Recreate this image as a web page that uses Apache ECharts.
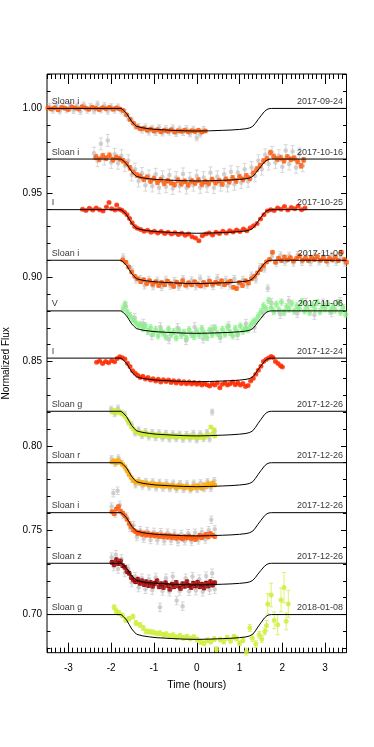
<!DOCTYPE html>
<html>
<head>
<meta charset="utf-8">
<script src="https://cdn.jsdelivr.net/npm/echarts@6/dist/echarts.min.js"></script>
<style>
html,body{margin:0;padding:0;background:#fff;}
#chart{width:374px;height:747px;}
</style>
</head>
<body>
<div id="chart"></div>
<script>
// ticks
var xMajor = [-3, -2, -1, 0, 1, 2, 3];
var yMajor = [0.70, 0.75, 0.80, 0.85, 0.90, 0.95, 1.00];
var yMinor = [0.68,0.69,0.71,0.72,0.73,0.74,0.76,0.77,0.78,0.79,0.81,0.82,0.83,0.84,0.86,0.87,0.88,0.89,0.91,0.92,0.93,0.94,0.96,0.97,0.98,0.99,1.01,1.02];

// curves (top to bottom)
var filters = ['Sloan i','Sloan i','I','Sloan i','V','I','Sloan g','Sloan r','Sloan i','Sloan z','Sloan g'];
var dates = ['2017-09-24','2017-10-16','2017-10-25','2017-11-06','2017-11-06','2017-12-24','2017-12-26','2017-12-26','2017-12-26','2017-12-26','2018-01-08'];
var baselines = [1.0, 0.97, 0.94, 0.91, 0.88, 0.852, 0.8205, 0.79, 0.7604, 0.7304, 0.70];
var depths = [0.0134, 0.013, 0.014, 0.0138, 0.0133, 0.014, 0.0146, 0.0142, 0.0138, 0.0128, 0.0147];
var colors = ['#ff5a0a','#ff5a0a','#ff2a00','#ff5a0a','#88ee88','#ff2a00','#ccee33','#ffaa00','#ff5a0a','#9a0000','#ccee33'];
var colorErr = [0.0008, 0.0014, 0.0004, 0.0009, 0.0018, 0.0004, 0.0008, 0.0008, 0.0009, 0.0011, 0.0014];
var grayErr = [0.0018, 0.0035, 0, 0.002, 0.0025, 0, 0.0017, 0.0017, 0.0022, 0.0025, 0];

// model transit shape (fraction of depth)
var modelT = [-3.5,-1.77,-1.72,-1.64,-1.58,-1.52,-1.46,-1.41,-1.33,-1.26,-1.1,-0.95,-0.6,-0.3,0,0.3,0.6,0.8,1.0,1.15,1.24,1.31,1.37,1.43,1.5,1.58,1.64,1.69,1.75,3.5];
var modelShape = [0,0,0.07,0.22,0.4,0.58,0.7,0.79,0.83,0.86,0.9,0.93,0.965,0.99,1,0.99,0.97,0.955,0.93,0.9,0.86,0.79,0.66,0.5,0.33,0.14,0.05,0.01,0,0];

// data
var sep24I = [[-3.48,1.0003],[-3.40,0.9996],[-3.32,1.0004],[-3.24,0.9992],[-3.16,1.0006],[-3.08,1.0001],[-3.00,0.9994],[-2.92,1.0008],[-2.84,1.0002],[-2.76,0.9997],[-2.68,1.0010],[-2.60,1.0003],[-2.52,0.9995],[-2.44,1.0007],[-2.36,1.0001],[-2.28,0.9993],[-2.20,1.0004],[-2.12,0.9998],[-2.04,1.0006],[-1.96,0.9995],[-1.88,1.0002],[-1.80,0.9997],[-1.72,0.9988],[-1.64,0.9962],[-1.56,0.9935],[-1.48,0.9912],[-1.40,0.9892],[-1.32,0.9880],[-1.24,0.9883],[-1.16,0.9871],[-1.08,0.9878],[-1.00,0.9866],[-0.92,0.9874],[-0.84,0.9862],[-0.76,0.9870],[-0.68,0.9865],[-0.60,0.9873],[-0.52,0.9860],[-0.44,0.9868],[-0.36,0.9864],[-0.28,0.9871],[-0.20,0.9861],[-0.12,0.9867],[-0.04,0.9863],[0.04,0.9870],[0.12,0.9860],[0.20,0.9866]];
var sep24Gray = [[-3.44,1.0012],[-3.36,0.9990],[-3.28,1.0015],[-3.20,0.9985],[-3.12,1.0010],[-3.04,0.9992],[-2.96,1.0018],[-2.88,0.9988],[-2.80,1.0014],[-2.72,0.9983],[-2.64,1.0020],[-2.56,0.9990],[-2.48,1.0012],[-2.40,0.9986],[-2.32,1.0025],[-2.24,0.9992],[-2.16,1.0016],[-2.08,0.9984],[-2.00,1.0010],[-1.92,0.9990],[-1.84,1.0008],[-1.76,0.9985],[-1.68,0.9975],[-1.60,0.9945],[-1.52,0.9930],[-1.44,0.9895],[-1.36,0.9892],[-1.28,0.9872],[-1.20,0.9890],[-1.12,0.9860],[-1.04,0.9882],[-0.96,0.9858],[-0.88,0.9885],[-0.80,0.9855],[-0.72,0.9880],[-0.64,0.9860],[-0.56,0.9884],[-0.48,0.9852],[-0.40,0.9878],[-0.32,0.9858],[-0.24,0.9880],[-0.16,0.9850],[-0.08,0.9876],[0.00,0.9826],[0.08,0.9848],[0.16,0.9875]];
var oct16I = [[-2.36,0.9712],[-2.28,0.9698],[-2.20,0.9718],[-2.12,0.9705],[-2.04,0.9722],[-1.96,0.9695],[-1.88,0.9710],[-1.80,0.9701],[-1.72,0.9690],[-1.64,0.9672],[-1.56,0.9648],[-1.48,0.9622],[-1.40,0.9605],[-1.32,0.9598],[-1.24,0.9580],[-1.16,0.9592],[-1.08,0.9570],[-1.00,0.9585],[-0.92,0.9562],[-0.84,0.9578],[-0.76,0.9555],[-0.68,0.9572],[-0.60,0.9560],[-0.52,0.9548],[-0.44,0.9575],[-0.36,0.9553],[-0.28,0.9568],[-0.20,0.9546],[-0.12,0.9570],[-0.04,0.9558],[0.04,0.9575],[0.12,0.9550],[0.20,0.9566],[0.28,0.9555],[0.36,0.9578],[0.44,0.9560],[0.52,0.9572],[0.60,0.9552],[0.68,0.9580],[0.76,0.9565],[0.84,0.9588],[0.92,0.9570],[1.00,0.9595],[1.08,0.9578],[1.16,0.9600],[1.24,0.9585],[1.32,0.9615],[1.40,0.9640],[1.48,0.9660],[1.56,0.9688],[1.64,0.9702],[1.72,0.9738],[1.80,0.9715],[1.88,0.9700],[1.96,0.9708],[2.04,0.9690],[2.12,0.9712],[2.20,0.9698],[2.28,0.9705],[2.36,0.9685],[2.44,0.9660],[2.50,0.9695]];
var oct16Gray = [[-2.40,0.9735],[-2.32,0.9690],[-2.24,0.9790],[-2.16,0.9700],[-2.08,0.9810],[-2.00,0.9680],[-1.92,0.9728],[-1.84,0.9675],[-1.76,0.9720],[-1.68,0.9660],[-1.60,0.9690],[-1.52,0.9605],[-1.44,0.9640],[-1.36,0.9570],[-1.28,0.9615],[-1.20,0.9545],[-1.12,0.9600],[-1.04,0.9540],[-0.96,0.9610],[-0.88,0.9530],[-0.80,0.9595],[-0.72,0.9535],[-0.64,0.9605],[-0.56,0.9525],[-0.48,0.9590],[-0.40,0.9540],[-0.32,0.9612],[-0.24,0.9528],[-0.16,0.9585],[-0.08,0.9545],[0.00,0.9600],[0.08,0.9532],[0.16,0.9590],[0.24,0.9538],[0.32,0.9618],[0.40,0.9530],[0.48,0.9595],[0.56,0.9545],[0.64,0.9610],[0.72,0.9540],[0.80,0.9625],[0.88,0.9550],[0.96,0.9620],[1.04,0.9560],[1.12,0.9640],[1.20,0.9568],[1.28,0.9650],[1.36,0.9600],[1.44,0.9690],[1.52,0.9640],[1.60,0.9725],[1.68,0.9670],[1.76,0.9740],[1.84,0.9680],[1.92,0.9720],[2.00,0.9655],[2.08,0.9750],[2.16,0.9670],[2.24,0.9745],[2.32,0.9650],[2.40,0.9730],[2.48,0.9660]];
var oct25I = [[-2.67,0.9402],[-2.59,0.9395],[-2.51,0.9408],[-2.43,0.9398],[-2.35,0.9410],[-2.27,0.9400],[-2.19,0.9392],[-2.11,0.9415],[-2.05,0.9442],[-1.99,0.9405],[-1.91,0.9398],[-1.87,0.9428],[-1.81,0.9402],[-1.75,0.9396],[-1.69,0.9385],[-1.63,0.9370],[-1.57,0.9348],[-1.51,0.9322],[-1.45,0.9300],[-1.39,0.9290],[-1.31,0.9282],[-1.23,0.9272],[-1.15,0.9278],[-1.07,0.9266],[-0.99,0.9272],[-0.91,0.9262],[-0.83,0.9270],[-0.75,0.9258],[-0.67,0.9266],[-0.59,0.9255],[-0.51,0.9263],[-0.43,0.9252],[-0.35,0.9260],[-0.27,0.9248],[-0.19,0.9256],[-0.11,0.9240],[-0.03,0.9232],[0.05,0.9215],[0.13,0.9245],[0.21,0.9255],[0.29,0.9262],[0.37,0.9250],[0.45,0.9266],[0.53,0.9258],[0.61,0.9272],[0.69,0.9262],[0.77,0.9275],[0.85,0.9268],[0.93,0.9280],[1.01,0.9270],[1.09,0.9285],[1.17,0.9275],[1.25,0.9292],[1.33,0.9305],[1.41,0.9318],[1.49,0.9345],[1.57,0.9370],[1.65,0.9392],[1.73,0.9400],[1.81,0.9395],[1.89,0.9410],[1.97,0.9402],[2.05,0.9418],[2.13,0.9398],[2.21,0.9412],[2.29,0.9405],[2.37,0.9420],[2.45,0.9400],[2.53,0.9410]];
var nov06I = [[-1.73,0.9102],[-1.66,0.9088],[-1.59,0.9060],[-1.52,0.9030],[-1.45,0.9005],[-1.38,0.8990],[-1.31,0.8972],[-1.24,0.8985],[-1.17,0.8962],[-1.10,0.8978],[-1.03,0.8958],[-0.96,0.8972],[-0.89,0.8950],[-0.82,0.8968],[-0.75,0.8955],[-0.68,0.8975],[-0.61,0.8962],[-0.54,0.8945],[-0.47,0.8970],[-0.40,0.8958],[-0.33,0.8978],[-0.26,0.8952],[-0.19,0.8966],[-0.12,0.8955],[-0.05,0.8972],[0.02,0.8960],[0.09,0.8948],[0.16,0.8968],[0.23,0.8955],[0.30,0.8975],[0.37,0.8958],[0.44,0.8970],[0.51,0.8962],[0.58,0.8978],[0.65,0.8955],[0.72,0.8966],[0.79,0.8975],[0.86,0.8940],[0.93,0.8932],[1.00,0.8968],[1.07,0.8950],[1.14,0.8978],[1.21,0.8965],[1.28,0.8990],[1.35,0.9005],[1.42,0.9025],[1.49,0.9045],[1.56,0.9068],[1.63,0.9090],[1.70,0.9105],[1.77,0.9148],[1.84,0.9088],[1.91,0.9112],[1.98,0.9098],[2.05,0.9120],[2.12,0.9102],[2.19,0.9115],[2.26,0.9095],[2.33,0.9110],[2.40,0.9125],[2.47,0.9100],[2.54,0.9112],[2.61,0.9098],[2.68,0.9118],[2.75,0.9105],[2.82,0.9122],[2.89,0.9100],[2.96,0.9115],[3.03,0.9095],[3.10,0.9110],[3.17,0.9102],[3.24,0.9120],[3.31,0.9098],[3.38,0.9148],[3.45,0.9105],[3.50,0.9088]];
var nov06IGray = [[-1.72,0.9118],[-1.62,0.9075],[-1.52,0.9045],[-1.42,0.8985],[-1.32,0.8990],[-1.22,0.8950],[-1.12,0.8985],[-1.02,0.8945],[-0.92,0.8980],[-0.82,0.8940],[-0.72,0.8985],[-0.62,0.8948],[-0.52,0.8978],[-0.42,0.8942],[-0.32,0.8990],[-0.22,0.8950],[-0.12,0.8982],[-0.02,0.8945],[0.08,0.8992],[0.18,0.8950],[0.28,0.8985],[0.38,0.8946],[0.48,0.8995],[0.58,0.8955],[0.68,0.8985],[0.78,0.8948],[0.88,0.8990],[0.98,0.8958],[1.08,0.8985],[1.18,0.8955],[1.28,0.9010],[1.38,0.8985],[1.48,0.9060],[1.58,0.9050],[1.66,0.8934],[1.76,0.9125],[1.86,0.9085],[1.96,0.9130],[2.06,0.9090],[2.16,0.9128],[2.26,0.9085],[2.36,0.9132],[2.46,0.9090],[2.56,0.9125],[2.66,0.9088],[2.76,0.9130],[2.86,0.9092],[2.96,0.9126],[3.06,0.9085],[3.16,0.9128],[3.26,0.9090],[3.36,0.9120],[3.46,0.9085]];
var nov06V = [[-1.72,0.8812],[-1.68,0.8840],[-1.62,0.8790],[-1.56,0.8772],[-1.50,0.8752],[-1.44,0.8735],[-1.38,0.8715],[-1.32,0.8720],[-1.26,0.8695],[-1.20,0.8712],[-1.14,0.8678],[-1.08,0.8700],[-1.02,0.8665],[-0.96,0.8690],[-0.90,0.8652],[-0.84,0.8685],[-0.78,0.8668],[-0.72,0.8645],[-0.66,0.8692],[-0.60,0.8660],[-0.54,0.8678],[-0.48,0.8640],[-0.42,0.8685],[-0.36,0.8655],[-0.30,0.8672],[-0.24,0.8638],[-0.18,0.8688],[-0.12,0.8660],[-0.06,0.8648],[0.00,0.8680],[0.06,0.8655],[0.12,0.8695],[0.18,0.8665],[0.24,0.8642],[0.30,0.8685],[0.36,0.8660],[0.42,0.8700],[0.48,0.8668],[0.54,0.8650],[0.60,0.8690],[0.66,0.8662],[0.72,0.8705],[0.78,0.8672],[0.84,0.8652],[0.90,0.8695],[0.96,0.8668],[1.02,0.8710],[1.08,0.8680],[1.14,0.8702],[1.20,0.8688],[1.26,0.8715],[1.32,0.8735],[1.38,0.8745],[1.44,0.8770],[1.50,0.8795],[1.56,0.8830],[1.62,0.8812],[1.68,0.8862],[1.74,0.8820],[1.80,0.8795],[1.86,0.8840],[1.92,0.8805],[1.98,0.8852],[2.04,0.8790],[2.10,0.8825],[2.16,0.8810],[2.22,0.8845],[2.28,0.8798],[2.34,0.8830],[2.40,0.8812],[2.46,0.8855],[2.52,0.8800],[2.58,0.8822],[2.64,0.8790],[2.70,0.8838],[2.76,0.8808],[2.82,0.8850],[2.88,0.8795],[2.94,0.8828],[3.00,0.8812],[3.06,0.8842],[3.12,0.8798],[3.18,0.8825],[3.24,0.8805],[3.30,0.8848],[3.36,0.8792],[3.42,0.8820],[3.48,0.8780]];
var nov06VGray = [[-1.65,0.8825],[-1.45,0.8760],[-1.25,0.8725],[-1.05,0.8655],[-0.85,0.8705],[-0.65,0.8630],[-0.45,0.8700],[-0.25,0.8625],[-0.05,0.8705],[0.15,0.8635],[0.35,0.8690],[0.55,0.8640],[0.75,0.8710],[0.95,0.8655],[1.15,0.8725],[1.35,0.8700],[1.55,0.8790],[1.75,0.8848],[1.95,0.8780],[2.15,0.8860],[2.35,0.8785],[2.55,0.8850],[2.75,0.8775],[2.95,0.8845],[3.15,0.8790],[3.35,0.8855]];
var dec24I = [[-2.34,0.8495],[-2.27,0.8503],[-2.20,0.8488],[-2.13,0.8500],[-2.06,0.8492],[-1.99,0.8505],[-1.92,0.8498],[-1.86,0.8518],[-1.80,0.8528],[-1.74,0.8522],[-1.68,0.8515],[-1.62,0.8490],[-1.56,0.8470],[-1.50,0.8445],[-1.44,0.8430],[-1.38,0.8418],[-1.32,0.8405],[-1.26,0.8412],[-1.20,0.8396],[-1.14,0.8405],[-1.08,0.8390],[-1.02,0.8398],[-0.96,0.8385],[-0.90,0.8395],[-0.84,0.8378],[-0.78,0.8392],[-0.72,0.8382],[-0.66,0.8390],[-0.60,0.8375],[-0.54,0.8386],[-0.48,0.8372],[-0.42,0.8384],[-0.36,0.8370],[-0.30,0.8380],[-0.24,0.8368],[-0.18,0.8378],[-0.12,0.8366],[-0.06,0.8376],[0.00,0.8365],[0.06,0.8372],[0.12,0.8360],[0.18,0.8370],[0.24,0.8362],[0.30,0.8355],[0.36,0.8368],[0.42,0.8360],[0.48,0.8372],[0.54,0.8345],[0.60,0.8365],[0.66,0.8374],[0.72,0.8360],[0.78,0.8368],[0.84,0.8378],[0.90,0.8362],[0.96,0.8374],[1.02,0.8360],[1.08,0.8370],[1.14,0.8352],[1.20,0.8358],[1.26,0.8385],[1.32,0.8400],[1.38,0.8425],[1.44,0.8448],[1.50,0.8472],[1.56,0.8500],[1.62,0.8512],[1.68,0.8520],[1.74,0.8530],[1.78,0.8524],[1.84,0.8500],[1.90,0.8488],[1.96,0.8475],[2.00,0.8468]];
var dec26g = [[-1.98,0.8200],[-1.93,0.8210],[-1.88,0.8195],[-1.83,0.8207],[-1.78,0.8198],[-1.73,0.8190],[-1.68,0.8175],[-1.63,0.8155],[-1.58,0.8138],[-1.53,0.8115],[-1.48,0.8100],[-1.43,0.8085],[-1.38,0.8080],[-1.33,0.8072],[-1.28,0.8078],[-1.23,0.8068],[-1.18,0.8074],[-1.13,0.8065],[-1.08,0.8070],[-1.03,0.8062],[-0.98,0.8068],[-0.93,0.8060],[-0.88,0.8066],[-0.83,0.8058],[-0.78,0.8064],[-0.73,0.8056],[-0.68,0.8062],[-0.63,0.8055],[-0.58,0.8060],[-0.53,0.8052],[-0.48,0.8061],[-0.43,0.8054],[-0.38,0.8059],[-0.33,0.8050],[-0.28,0.8058],[-0.23,0.8052],[-0.18,0.8060],[-0.13,0.8050],[-0.08,0.8057],[-0.03,0.8049],[0.02,0.8056],[0.07,0.8050],[0.12,0.8062],[0.17,0.8048],[0.22,0.8058],[0.27,0.8065],[0.33,0.8112],[0.37,0.8070],[0.40,0.8095],[0.42,0.8058]];
var dec26gGray = [[-2.00,0.8218],[-1.92,0.8190],[-1.84,0.8225],[-1.76,0.8195],[-1.68,0.8188],[-1.60,0.8140],[-1.52,0.8125],[-1.44,0.8075],[-1.36,0.8095],[-1.28,0.8060],[-1.20,0.8085],[-1.12,0.8052],[-1.04,0.8080],[-0.96,0.8048],[-0.88,0.8078],[-0.80,0.8045],[-0.72,0.8075],[-0.64,0.8040],[-0.56,0.8072],[-0.48,0.8042],[-0.40,0.8070],[-0.32,0.8038],[-0.24,0.8068],[-0.16,0.8040],[-0.08,0.8075],[0.00,0.8035],[0.08,0.8072],[0.16,0.8042],[0.24,0.8080],[0.30,0.8040],[0.36,0.8200],[0.42,0.8085]];
var dec26r = [[-1.98,0.7905],[-1.93,0.7912],[-1.88,0.7898],[-1.83,0.7915],[-1.78,0.7902],[-1.73,0.7890],[-1.68,0.7875],[-1.63,0.7852],[-1.58,0.7830],[-1.53,0.7812],[-1.48,0.7795],[-1.43,0.7785],[-1.38,0.7790],[-1.33,0.7778],[-1.28,0.7785],[-1.23,0.7772],[-1.18,0.7780],[-1.13,0.7770],[-1.08,0.7776],[-1.03,0.7766],[-0.98,0.7774],[-0.93,0.7764],[-0.88,0.7772],[-0.83,0.7762],[-0.78,0.7770],[-0.73,0.7760],[-0.68,0.7768],[-0.63,0.7758],[-0.58,0.7766],[-0.53,0.7760],[-0.48,0.7752],[-0.43,0.7765],[-0.38,0.7756],[-0.33,0.7762],[-0.28,0.7750],[-0.23,0.7760],[-0.18,0.7754],[-0.13,0.7745],[-0.08,0.7762],[-0.03,0.7752],[0.02,0.7765],[0.07,0.7756],[0.12,0.7748],[0.17,0.7770],[0.22,0.7758],[0.27,0.7775],[0.32,0.7762],[0.37,0.7780],[0.42,0.7768]];
var dec26rGray = [[-1.99,0.7925],[-1.91,0.7895],[-1.83,0.7930],[-1.75,0.7898],[-1.67,0.7870],[-1.59,0.7838],[-1.51,0.7800],[-1.43,0.7768],[-1.35,0.7795],[-1.27,0.7760],[-1.19,0.7790],[-1.11,0.7755],[-1.03,0.7788],[-0.95,0.7750],[-0.87,0.7785],[-0.79,0.7748],[-0.71,0.7782],[-0.63,0.7745],[-0.55,0.7780],[-0.47,0.7742],[-0.39,0.7778],[-0.31,0.7740],[-0.23,0.7776],[-0.15,0.7738],[-0.07,0.7780],[0.01,0.7740],[0.09,0.7782],[0.17,0.7745],[0.25,0.7790],[0.33,0.7748],[0.41,0.7795]];
var dec26i = [[-1.98,0.7610],[-1.93,0.7598],[-1.88,0.7625],[-1.83,0.7640],[-1.78,0.7612],[-1.73,0.7600],[-1.68,0.7585],[-1.63,0.7565],[-1.58,0.7540],[-1.53,0.7520],[-1.48,0.7500],[-1.43,0.7492],[-1.38,0.7480],[-1.33,0.7488],[-1.28,0.7475],[-1.23,0.7484],[-1.18,0.7470],[-1.13,0.7480],[-1.08,0.7468],[-1.03,0.7476],[-0.98,0.7465],[-0.93,0.7474],[-0.88,0.7462],[-0.83,0.7472],[-0.78,0.7460],[-0.73,0.7470],[-0.68,0.7458],[-0.63,0.7468],[-0.58,0.7456],[-0.53,0.7466],[-0.48,0.7452],[-0.43,0.7464],[-0.38,0.7455],[-0.33,0.7448],[-0.28,0.7462],[-0.23,0.7454],[-0.18,0.7466],[-0.13,0.7450],[-0.08,0.7460],[-0.03,0.7445],[0.02,0.7458],[0.07,0.7470],[0.12,0.7455],[0.17,0.7466],[0.22,0.7476],[0.27,0.7460],[0.32,0.7480],[0.37,0.7470],[0.42,0.7462]];
var dec26iGray = [[-1.99,0.7640],[-1.95,0.7720],[-1.90,0.7600],[-1.85,0.7734],[-1.80,0.7650],[-1.72,0.7590],[-1.64,0.7580],[-1.56,0.7515],[-1.48,0.7530],[-1.40,0.7460],[-1.32,0.7500],[-1.24,0.7450],[-1.16,0.7495],[-1.08,0.7442],[-1.00,0.7490],[-0.92,0.7440],[-0.84,0.7488],[-0.76,0.7435],[-0.68,0.7485],[-0.60,0.7438],[-0.52,0.7480],[-0.44,0.7430],[-0.36,0.7478],[-0.28,0.7435],[-0.20,0.7482],[-0.12,0.7432],[-0.04,0.7485],[0.04,0.7440],[0.12,0.7490],[0.20,0.7445],[0.28,0.7500],[0.34,0.7562],[0.42,0.7505]];
var dec26z = [[-1.98,0.7310],[-1.93,0.7295],[-1.88,0.7325],[-1.83,0.7302],[-1.78,0.7318],[-1.73,0.7290],[-1.68,0.7280],[-1.63,0.7255],[-1.58,0.7245],[-1.53,0.7220],[-1.48,0.7205],[-1.43,0.7195],[-1.38,0.7210],[-1.33,0.7185],[-1.28,0.7200],[-1.23,0.7178],[-1.18,0.7195],[-1.13,0.7172],[-1.08,0.7190],[-1.03,0.7168],[-0.98,0.7185],[-0.93,0.7200],[-0.88,0.7165],[-0.83,0.7182],[-0.78,0.7160],[-0.73,0.7188],[-0.68,0.7172],[-0.63,0.7150],[-0.58,0.7180],[-0.53,0.7165],[-0.48,0.7190],[-0.43,0.7170],[-0.38,0.7155],[-0.33,0.7182],[-0.28,0.7168],[-0.23,0.7195],[-0.18,0.7172],[-0.13,0.7160],[-0.08,0.7185],[-0.03,0.7170],[0.02,0.7192],[0.07,0.7165],[0.12,0.7180],[0.17,0.7158],[0.22,0.7185],[0.27,0.7170],[0.32,0.7195],[0.37,0.7175],[0.42,0.7188]];
var dec26zGray = [[-1.99,0.7340],[-1.94,0.7285],[-1.89,0.7355],[-1.84,0.7270],[-1.76,0.7330],[-1.68,0.7250],[-1.60,0.7270],[-1.52,0.7190],[-1.44,0.7225],[-1.36,0.7160],[-1.28,0.7215],[-1.20,0.7150],[-1.12,0.7210],[-1.04,0.7145],[-0.96,0.7220],[-0.86,0.7043],[-0.80,0.7140],[-0.72,0.7215],[-0.64,0.7135],[-0.56,0.7225],[-0.47,0.7083],[-0.40,0.7140],[-0.33,0.7050],[-0.26,0.7215],[-0.18,0.7138],[-0.10,0.7225],[-0.02,0.7142],[0.06,0.7210],[0.14,0.7135],[0.22,0.7228],[0.30,0.7145],[0.36,0.7245],[0.42,0.7150]];
var jan08g = [[-1.93,0.7043],[-1.88,0.7020],[-1.82,0.7010],[-1.74,0.6995],[-1.66,0.6968],[-1.58,0.6975],[-1.49,0.6988],[-1.42,0.6950],[-1.33,0.6939],[-1.25,0.6920],[-1.18,0.6900],[-1.10,0.6898],[-1.02,0.6895],[-0.94,0.6888],[-0.86,0.6890],[-0.78,0.6880],[-0.71,0.6884],[-0.63,0.6872],[-0.55,0.6878],[-0.47,0.6865],[-0.39,0.6874],[-0.31,0.6862],[-0.23,0.6868],[-0.15,0.6858],[-0.07,0.6866],[0.01,0.6852],[0.09,0.6838],[0.17,0.6830],[0.25,0.6848],[0.33,0.6840],[0.41,0.6855],[0.46,0.6795],[0.55,0.6852],[0.63,0.6840],[0.71,0.6862],[0.79,0.6845],[0.87,0.6868],[0.93,0.6858],[1.00,0.6830],[1.08,0.6848],[1.16,0.6780,0.002],[1.24,0.6920,0.002],[1.30,0.6860,0.002],[1.38,0.6825,0.002],[1.46,0.6880,0.002],[1.52,0.6855,0.002],[1.59,0.6900,0.002],[1.63,0.6935,0.003],[1.66,0.7063,0.006],[1.74,0.7116,0.007],[1.81,0.6966,0.005],[1.89,0.6940,0.006],[1.97,0.7087,0.007],[2.04,0.7160,0.009],[2.09,0.6960,0.005],[2.14,0.7063,0.008]];

var points = [sep24I, oct16I, oct25I, nov06I, nov06V, dec24I, dec26g, dec26r, dec26i, dec26z, jan08g];
var grays = [sep24Gray, oct16Gray, null, nov06IGray, nov06VGray, null, dec26gGray, dec26rGray, dec26iGray, dec26zGray, null];

var FONT = '"Liberation Sans", Helvetica, Arial, sans-serif';

function errRender(color, opacity) {
	return function (params, api) {
		var x = api.value(0), y = api.value(1), e = api.value(2);
		var hi = api.coord([x, y + e]);
		var lo = api.coord([x, y - e]);
		var st = {stroke: color, lineWidth: 1, opacity: opacity};
		return {type: 'group', children: [
			{type: 'line', shape: {x1: hi[0], y1: hi[1], x2: lo[0], y2: lo[1]}, style: st},
			{type: 'line', shape: {x1: hi[0] - 2, y1: hi[1], x2: hi[0] + 2, y2: hi[1]}, style: st},
			{type: 'line', shape: {x1: lo[0] - 2, y1: lo[1], x2: lo[0] + 2, y2: lo[1]}, style: st}
		]};
	};
}

function withErr(arr, err) {
	return arr.map(function (p) { return [p[0], p[1], p.length > 2 ? p[2] : err]; });
}

var series = [];
points.forEach(function (pts, k) {
	var g = grays[k];
	if (g) {
		series.push({type: 'custom', renderItem: errRender('#d6d6d6', 1), data: withErr(g, grayErr[k]), encode: {x: 0, y: 1}, silent: true});
		series.push({type: 'scatter', data: g, symbolSize: 4.5, itemStyle: {color: '#c6c6c6'}, silent: true});
	}
	series.push({type: 'custom', renderItem: errRender(colors[k], 0.7), data: withErr(pts, colorErr[k]), encode: {x: 0, y: 1}, silent: true});
	series.push({type: 'scatter', data: pts, symbolSize: 5, itemStyle: {color: colors[k]}, silent: true});
});

baselines.forEach(function (b, k) {
	series.push({
		type: 'line', silent: true, showSymbol: false, symbol: 'none', z: 5,
		lineStyle: {color: '#000', width: 1},
		data: modelT.map(function (t, i) { return [t, b - depths[k] * modelShape[i]]; })
	});
});

var lblStyle = {show: true, color: '#000', fontSize: 9, fontFamily: FONT, verticalAlign: 'bottom', offset: [0, -2]};
series.push({
	type: 'scatter', silent: true, z: 6, symbolSize: 1, itemStyle: {color: 'rgba(0,0,0,0)'},
	data: baselines.map(function (b, k) { return {value: [-3.38, b], name: filters[k]}; }),
	label: Object.assign({position: [0, 0], align: 'left', formatter: '{b}'}, lblStyle)
});
series.push({
	type: 'scatter', silent: true, z: 6, symbolSize: 1, itemStyle: {color: 'rgba(0,0,0,0)'},
	data: baselines.map(function (b, k) { return {value: [3.43, b], name: dates[k]}; }),
	label: Object.assign({position: [0, 0], align: 'right', formatter: '{b}'}, lblStyle)
});

function xAx(pos, major, labels) {
	var a = {
		type: 'value', min: -3.5, max: 3.5, position: pos,
		axisLine: {show: false, onZero: false}, splitLine: {show: false},
		axisTick: {inside: true, length: major ? 10 : 5, lineStyle: {color: '#000', width: 1}},
		axisLabel: {show: false}
	};
	if (major) {
		a.axisTick.customValues = xMajor;
		if (labels) {
			a.axisLabel = {show: true, customValues: xMajor, margin: 11, color: '#000', fontSize: 10, fontFamily: FONT};
			a.name = 'Time (hours)';
			a.nameLocation = 'middle';
			a.nameGap = 27;
			a.nameTextStyle = {color: '#000', fontSize: 10.5, fontFamily: FONT};
		}
	} else {
		a.interval = 0.1;
	}
	return a;
}

function yAx(pos, major, labels) {
	var a = {
		type: 'value', min: 0.6774, max: 1.0204, position: pos,
		axisLine: {show: false, onZero: false}, splitLine: {show: false},
		axisTick: {inside: true, length: major ? 5.5 : 3.5, customValues: major ? yMajor : yMinor, lineStyle: {color: '#000', width: 1}},
		axisLabel: {show: false}
	};
	if (labels) {
		a.axisLabel = {show: true, customValues: yMajor, margin: 5, color: '#000', fontSize: 10, fontFamily: FONT,
			formatter: function (v) { return v.toFixed(2); }};
		a.name = 'Normalized Flux';
		a.nameLocation = 'middle';
		a.nameGap = 31;
		a.nameTextStyle = {color: '#000', fontSize: 10, fontFamily: FONT};
	}
	return a;
}

var chart = echarts.init(document.getElementById('chart'), null, {renderer: 'canvas'});
chart.setOption({
	backgroundColor: '#fff',
	animation: false,
	grid: {left: 47, right: 27.5, top: 74, bottom: 94.3, show: true, borderColor: '#000', borderWidth: 1, backgroundColor: 'transparent', outerBoundsMode: 'none', containLabel: false},
	xAxis: [xAx('bottom', false), xAx('bottom', true, true), xAx('top', false), xAx('top', true)],
	yAxis: [yAx('left', false), yAx('left', true, true), yAx('right', false), yAx('right', true)],
	series: series
});
</script>
</body>
</html>
